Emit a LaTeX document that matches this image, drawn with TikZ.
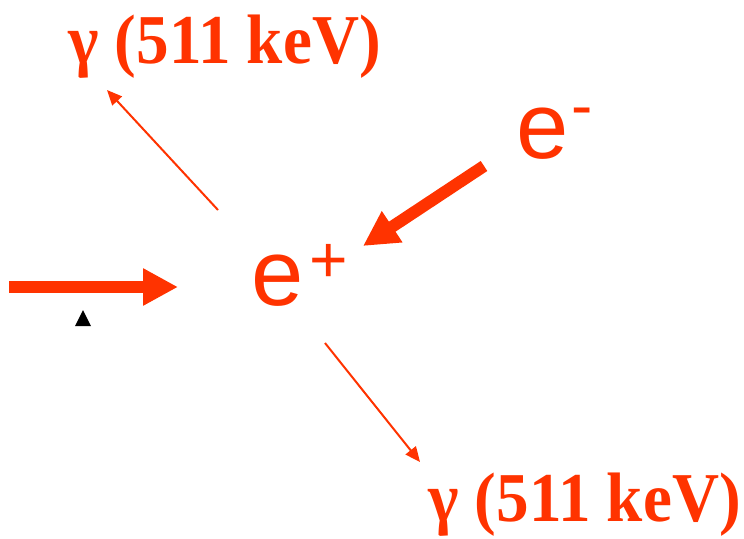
\documentclass[tikz,border=0pt]{standalone}
\usepackage{fontspec}
\usetikzlibrary{arrows.meta, positioning}
\newfontfamily\gammafont{Liberation Serif}
\newfontfamily\chargefont{Liberation Sans}
\definecolor{annihred}{HTML}{FF3300}
\newcommand{\gammatext}{\scalebox{0.93}[1]{γ (511 keV)}}

\begin{document}
\begin{tikzpicture}[
    x=1pt, y=-1pt,
    fatarrow/.style={-{Triangle[length=35pt, width=35pt]}, line width=12pt, draw=annihred},
    thinarrow/.style={-{Triangle[length=15pt, width=13pt]}, line width=2pt, draw=annihred, fill=annihred},
    gammalabel/.style={anchor=base west, inner sep=0pt, text=annihred, font=\gammafont\bfseries\fontsize{70}{80}\selectfont},
    particle/.style={anchor=base west, inner sep=0pt, text=annihred, font=\chargefont\fontsize{94}{100}\selectfont},
]
\useasboundingbox (0,0) rectangle (744,538);

% Particles
\node[particle] (positron) at (251,305) {e\kern6pt\raisebox{23pt}{\fontsize{66}{66}\selectfont +}};
\node[particle] (electron) at (516,158) {e\kern3pt\raisebox{31pt}{\fontsize{64}{64}\selectfont -}};

% Photons
\node[gammalabel] (gammaup) at (68,63) {\gammatext};
\node[gammalabel] (gammadown) at (428,521) {\gammatext};

% Arrow end points
\coordinate (beamstart) at (9,287);
\coordinate (beamend) at (178,287);
\coordinate (elecstart) at (484,166);
\coordinate (elecend) at (363,246);
\coordinate (upstart) at (218,210);
\coordinate (uptip) at (107,90);
\coordinate (downstart) at (325,343);
\coordinate (downtip) at (420,462);

% Arrows
\draw[fatarrow, fill=annihred] (beamstart) -- (beamend);
\draw[fatarrow, fill=annihred] (elecstart) -- (elecend);
\draw[thinarrow] (upstart) -- (uptip);
\draw[thinarrow] (downstart) -- (downtip);

% Marker
\fill[black] (75,326) -- (91,326) -- (83,310) -- cycle;

\end{tikzpicture}
\end{document}
